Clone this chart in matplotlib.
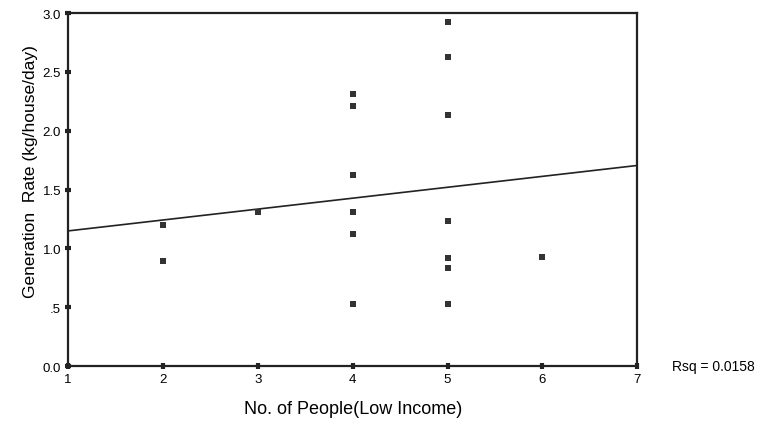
import numpy as np
import matplotlib.pyplot as plt

plt.rcParams['font.family'] = ['Liberation Sans', 'DejaVu Sans']

# number of people per household (low income)
people = [2, 2, 3, 4, 4, 4, 4, 4, 4, 5, 5, 5, 5, 5, 5, 5, 6]
# generation rate kg/house/day
rate = [1.20, 0.89, 1.31,
        2.31, 2.21, 1.62, 1.31, 1.12, 0.53,
        2.92, 2.63, 2.13, 1.23, 0.92, 0.83, 0.53,
        0.93]

x_ticks = [1, 2, 3, 4, 5, 6, 7]
y_ticks = [0.0, 0.5, 1.0, 1.5, 2.0, 2.5, 3.0]
y_labels = ['0.0', '.5', '1.0', '1.5', '2.0', '2.5', '3.0']
rsq_text = 'Rsq = 0.0158'

fig = plt.figure(figsize=(7.65, 4.39), dpi=100)
ax = fig.add_axes([0.089, 0.164, 0.744, 0.804])

ax.scatter(people, rate, marker='s', s=14, color='#333333', linewidths=0, zorder=3)

# least squares line across the full x range
slope, icpt = np.polyfit(people, rate, 1)
xs = np.array([1, 7])
ax.plot(xs, icpt + slope * xs, color='#222222', lw=1.2)

ax.set_xlim(1, 7)
ax.set_ylim(0, 3)
ax.set_xticks(x_ticks)
ax.set_yticks(y_ticks)
ax.set_yticklabels(y_labels)
ax.tick_params(direction='inout', length=4, width=3, color='#222222',
               labelsize=9.5)
ax.tick_params(axis='y', pad=3)
ax.tick_params(axis='x', pad=3)

for sp in ax.spines.values():
    sp.set_linewidth(1.6)
    sp.set_color('#222222')

ax.set_ylabel('Generation  Rate (kg/house/day)', fontsize=12.5)
ax.yaxis.set_label_coords(-0.052, 0.555)
ax.set_xlabel('No. of People(Low Income)', fontsize=13, labelpad=11)

fig.text(0.878, 0.164, rsq_text, fontsize=10, va='center', ha='left')

fig.savefig('out.png', dpi=100)
